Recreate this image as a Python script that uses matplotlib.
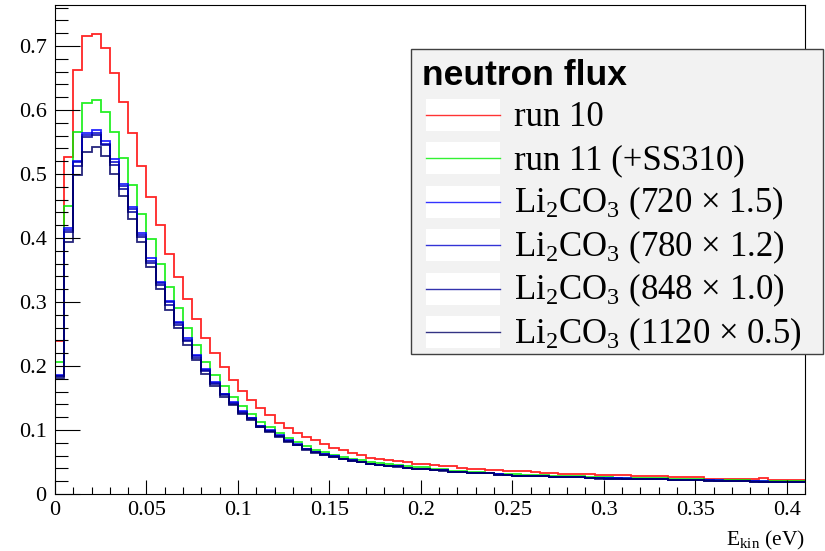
import matplotlib
matplotlib.use('Agg')
import matplotlib.pyplot as plt
import numpy as np
from matplotlib.ticker import MultipleLocator, FuncFormatter
from matplotlib.patches import Rectangle
from matplotlib.lines import Line2D

plt.rcParams['font.family'] = ['Liberation Serif', 'DejaVu Serif']
plt.rcParams['mathtext.fontset'] = 'custom'
plt.rcParams['mathtext.rm'] = 'Liberation Serif'
plt.rcParams['mathtext.it'] = 'Liberation Serif:italic'
plt.rcParams['mathtext.bf'] = 'Liberation Serif:bold'

# ---- data -------------------------------------------------------------
bin_width = 0.005
n_bins = 82
x_max = 0.41
y_max = 0.764

run10 = [0.239, 0.527, 0.662, 0.716, 0.718, 0.697, 0.658, 0.613, 0.564, 0.513,
         0.464, 0.420, 0.375, 0.3385, 0.304, 0.273, 0.244, 0.220, 0.198, 0.178,
         0.1615, 0.1475, 0.134, 0.1227, 0.111, 0.1035, 0.0958, 0.089, 0.0839, 0.0776,
         0.0725, 0.0683, 0.0642, 0.0606, 0.057, 0.0549, 0.0535, 0.0515, 0.0495, 0.0476,
         0.0462, 0.0458, 0.0435, 0.0432, 0.0409, 0.0390, 0.0386, 0.0374, 0.0372, 0.0358,
         0.0356, 0.0355, 0.0337, 0.0335, 0.0321, 0.0320, 0.0318, 0.0306, 0.0305, 0.0304,
         0.0302, 0.0300, 0.0298, 0.0282, 0.0280, 0.0279, 0.0278, 0.0262, 0.0260, 0.0259,
         0.0258, 0.0240, 0.0239, 0.0238, 0.0237, 0.0236, 0.0228, 0.0243, 0.0224, 0.0223,
         0.0222, 0.0221]

run11 = [0.207, 0.450, 0.566, 0.611, 0.616, 0.597, 0.566, 0.525, 0.483, 0.438,
         0.398, 0.360, 0.323, 0.291, 0.260, 0.233, 0.207, 0.186, 0.169, 0.151,
         0.137, 0.125, 0.113, 0.104, 0.096, 0.088, 0.0815, 0.075, 0.069, 0.065,
         0.061, 0.058, 0.055, 0.0525, 0.050, 0.048, 0.0465, 0.045, 0.044, 0.0424,
         0.0420, 0.0390, 0.0388, 0.0362, 0.0360, 0.0338, 0.0336, 0.0334, 0.0316, 0.0314,
         0.0305, 0.0302, 0.0300, 0.0296, 0.0285, 0.0283, 0.0280, 0.0275, 0.0260, 0.0262,
         0.0258, 0.0256, 0.0255, 0.0250, 0.0248, 0.0246, 0.0244, 0.0236, 0.0234, 0.0232,
         0.0230, 0.0220, 0.0219, 0.0218, 0.0217, 0.0216, 0.0205, 0.0204, 0.0204, 0.0203,
         0.0200, 0.0198]

li_720 = [0.186, 0.416, 0.521, 0.564, 0.568, 0.551, 0.524, 0.485, 0.448, 0.407,
          0.3685, 0.332, 0.302, 0.269, 0.2433, 0.2174, 0.196, 0.1744, 0.157, 0.1433,
          0.1294, 0.119, 0.107, 0.0994, 0.0916, 0.0839, 0.0776, 0.0709, 0.0657, 0.0621,
          0.059, 0.0549, 0.0528, 0.0502, 0.0476, 0.046, 0.0445, 0.0435, 0.0414, 0.0393,
          0.0390, 0.0375, 0.0372, 0.0350, 0.0346, 0.0332, 0.0330, 0.0328, 0.0307, 0.0304,
          0.0288, 0.0286, 0.0285, 0.0283, 0.0272, 0.0270, 0.0269, 0.0267, 0.0248, 0.0246,
          0.0245, 0.0244, 0.0243, 0.0236, 0.0235, 0.0234, 0.0233, 0.0226, 0.0225, 0.0224,
          0.0223, 0.0212, 0.0211, 0.0210, 0.0209, 0.0208, 0.0197, 0.0196, 0.0195, 0.0195,
          0.0194, 0.0193]

li_780 = [0.185, 0.4125, 0.519, 0.561, 0.564, 0.547, 0.519, 0.481, 0.4445, 0.405,
          0.3644, 0.3297, 0.2997, 0.2666, 0.241, 0.2153, 0.194, 0.1729, 0.156, 0.1420,
          0.1283, 0.1180, 0.1062, 0.0987, 0.0910, 0.0834, 0.0771, 0.0705, 0.0654, 0.0618,
          0.0587, 0.0547, 0.0526, 0.0500, 0.0474, 0.0458, 0.0443, 0.0433, 0.0412, 0.0391,
          0.0388, 0.0373, 0.0370, 0.0349, 0.0344, 0.0331, 0.0329, 0.0327, 0.0306, 0.0303,
          0.0287, 0.0285, 0.0284, 0.0282, 0.0271, 0.0269, 0.0268, 0.0266, 0.0247, 0.0245,
          0.0244, 0.0243, 0.0242, 0.0235, 0.0234, 0.0233, 0.0232, 0.0225, 0.0224, 0.0223,
          0.0222, 0.0211, 0.0210, 0.0209, 0.0208, 0.0207, 0.0196, 0.0195, 0.0194, 0.0194,
          0.0193, 0.0192]

li_848 = [0.184, 0.410, 0.513, 0.557, 0.561, 0.5445, 0.514, 0.477, 0.441, 0.402,
          0.3607, 0.327, 0.296, 0.264, 0.239, 0.213, 0.192, 0.1713, 0.154, 0.1410,
          0.1272, 0.1170, 0.1054, 0.0980, 0.0904, 0.0829, 0.0767, 0.0701, 0.0650, 0.0615,
          0.0584, 0.0544, 0.0523, 0.0498, 0.0472, 0.0456, 0.0441, 0.0431, 0.0410, 0.0389,
          0.0386, 0.0371, 0.0368, 0.0347, 0.0343, 0.0329, 0.0327, 0.0325, 0.0304, 0.0301,
          0.0285, 0.0284, 0.0282, 0.0280, 0.0269, 0.0268, 0.0266, 0.0264, 0.0245, 0.0244,
          0.0242, 0.0241, 0.0240, 0.0233, 0.0232, 0.0231, 0.0230, 0.0223, 0.0222, 0.0221,
          0.0220, 0.0209, 0.0208, 0.0207, 0.0206, 0.0205, 0.0194, 0.0193, 0.0192, 0.0192,
          0.0191, 0.0190]

li_1120 = [0.182, 0.394, 0.498, 0.535, 0.542, 0.528, 0.4995, 0.465, 0.429, 0.393,
           0.3545, 0.321, 0.288, 0.260, 0.233, 0.209, 0.1874, 0.1687, 0.151, 0.1390,
           0.1255, 0.1155, 0.1040, 0.0968, 0.0893, 0.0820, 0.0759, 0.0694, 0.0644, 0.0610,
           0.0580, 0.0540, 0.0520, 0.0495, 0.0470, 0.0454, 0.0439, 0.0429, 0.0408, 0.0387,
           0.0384, 0.0369, 0.0366, 0.0345, 0.0341, 0.0327, 0.0325, 0.0323, 0.0302, 0.0299,
           0.0283, 0.0282, 0.0280, 0.0278, 0.0267, 0.0266, 0.0264, 0.0262, 0.0243, 0.0242,
           0.0240, 0.0239, 0.0238, 0.0231, 0.0230, 0.0229, 0.0228, 0.0221, 0.0220, 0.0219,
           0.0218, 0.0207, 0.0206, 0.0205, 0.0204, 0.0203, 0.0192, 0.0191, 0.0190, 0.0190,
           0.0189, 0.0188]

series = [run10, run11, li_720, li_780, li_848, li_1120]
labels = ['run 10', 'run 11 (+SS310)',
          r'Li$_{\mathrm{2}}$CO$_{\mathrm{3}}$ (720 × 1.5)',
          r'Li$_{\mathrm{2}}$CO$_{\mathrm{3}}$ (780 × 1.2)',
          r'Li$_{\mathrm{2}}$CO$_{\mathrm{3}}$ (848 × 1.0)',
          r'Li$_{\mathrm{2}}$CO$_{\mathrm{3}}$ (1120 × 0.5)']
colors = ['#ff0000', '#00ee00', '#0000ff', '#0000cc', '#000099', '#000066']
legend_title = 'neutron flux'
x_label = r'E$_{\mathrm{kin}}$ (eV)'

# ---- figure -----------------------------------------------------------
W, H = 825, 551
fig = plt.figure(figsize=(W / 100, H / 100), dpi=100)
ax_l, ax_r, ax_t, ax_b = 55, 805, 5, 494
ax = fig.add_axes([ax_l / W, (H - ax_b) / H, (ax_r - ax_l) / W, (ax_b - ax_t) / H])

edges = np.arange(n_bins + 1) * bin_width
for vals, col in zip(series, colors):
    ax.stairs(vals, edges, baseline=None, color=col, lw=1.3, alpha=0.85)

ax.set_xlim(0, x_max)
ax.set_ylim(0, y_max)
ax.xaxis.set_major_locator(MultipleLocator(0.05))
ax.xaxis.set_minor_locator(MultipleLocator(0.01))
ax.yaxis.set_major_locator(MultipleLocator(0.1))
ax.yaxis.set_minor_locator(MultipleLocator(0.02))
fmt = FuncFormatter(lambda v, p: f'{v:.2f}'.rstrip('0').rstrip('.') if abs(v) > 1e-9 else '0')
ax.xaxis.set_major_formatter(fmt)
ax.yaxis.set_major_formatter(fmt)
ax.tick_params(axis='x', which='major', direction='in', length=10, width=0.8, labelsize=16, pad=5)
ax.tick_params(axis='x', which='minor', direction='in', length=5, width=0.8)
ax.tick_params(axis='y', which='major', direction='in', length=18, width=0.8, labelsize=16, pad=6)
ax.tick_params(axis='y', which='minor', direction='in', length=9, width=0.8)
for s in ax.spines.values():
    s.set_linewidth(0.8)
    s.set_color('black')

fig.text(ax_r / W, (H - 545) / H, x_label, ha='right', va='baseline', fontsize=15.5)

# ---- legend -----------------------------------------------------------
lg_l, lg_t, lg_r, lg_b = 411, 49, 823, 354
lax = fig.add_axes([lg_l / W, (H - lg_b) / H, (lg_r - lg_l) / W, (lg_b - lg_t) / H])
lw_, lh_ = lg_r - lg_l, lg_b - lg_t
lax.set_xlim(0, lw_)
lax.set_ylim(lh_, 0)
lax.axis('off')
lax.add_patch(Rectangle((0, 0), lw_, lh_, facecolor='#f2f2f2', edgecolor='#404040',
                        lw=1.0, clip_on=False))
lax.text(11, 36, legend_title, fontsize=25.5, fontweight='bold',
         family=['Liberation Sans', 'DejaVu Sans'], ha='left', va='baseline')
row0, row_step = 66, 43.4
for i, (lab, col) in enumerate(zip(labels, colors)):
    yc = row0 + i * row_step
    lax.add_patch(Rectangle((15, yc - 16), 74, 32, facecolor='white', edgecolor='none'))
    lax.add_line(Line2D([15, 89], [yc, yc], color=col, lw=1.0, alpha=0.8))
    lax.text(103, yc + 11, lab, fontsize=25, ha='left', va='baseline')

fig.savefig('out.png', dpi=100)
